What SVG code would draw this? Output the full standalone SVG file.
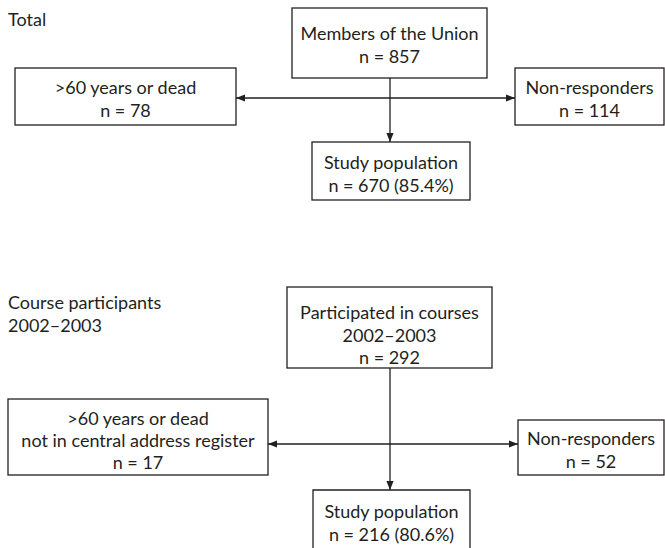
<svg xmlns="http://www.w3.org/2000/svg" width="665" height="548" viewBox="0 0 665 548">
<style>
text{font-family:Lato,"Liberation Sans",sans-serif;font-size:18px;fill:#231f20}
.c{text-anchor:middle}
.box{fill:#fff;stroke:#231f20;stroke-width:1.3}
.ln{stroke:#231f20;stroke-width:1.3;fill:none}
</style>
<defs>
<marker id="ah" viewBox="0 0 10 10" refX="10" refY="5" markerWidth="9" markerHeight="9" markerUnits="userSpaceOnUse" orient="auto-start-reverse">
<path d="M0,1 L10,5 L0,9 z" fill="#231f20"/>
</marker>
</defs>
<text x="8" y="26">Total</text>
<text x="8" y="309">Course participants</text>
<text x="8" y="332">2002–2003</text>
<g id="connectors">
<line class="ln" x1="390" y1="78" x2="390" y2="142" marker-end="url(#ah)"/>
<line class="ln" x1="236" y1="98" x2="515" y2="98" marker-start="url(#ah)" marker-end="url(#ah)"/>
<line class="ln" x1="390" y1="368" x2="390" y2="490" marker-end="url(#ah)"/>
<line class="ln" x1="268" y1="444" x2="518" y2="444" marker-start="url(#ah)" marker-end="url(#ah)"/>
</g>
<g id="members">
<rect class="box" x="292" y="8" width="195" height="70"/>
<text class="c" x="389.5" y="40">Members of the Union</text>
<text class="c" x="389.5" y="63">n = 857</text>
</g>
<g id="old1">
<rect class="box" x="15" y="68" width="221" height="57"/>
<text class="c" x="125.5" y="94">&gt;60 years or dead</text>
<text class="c" x="125.5" y="117">n = 78</text>
</g>
<g id="nonresp1">
<rect class="box" x="515" y="68" width="149" height="57"/>
<text class="c" x="589.5" y="94">Non-responders</text>
<text class="c" x="589.5" y="117">n = 114</text>
</g>
<g id="study1">
<rect class="box" x="312" y="142" width="158" height="58"/>
<text class="c" x="391" y="169">Study population</text>
<text class="c" x="391" y="192">n = 670 (85.4%)</text>
</g>
<g id="participated">
<rect class="box" x="287" y="287" width="205" height="81"/>
<text class="c" x="389.5" y="319">Participated in courses</text>
<text class="c" x="389.5" y="342">2002–2003</text>
<text class="c" x="389.5" y="364">n = 292</text>
</g>
<g id="old2">
<rect class="box" x="8" y="399" width="260" height="76"/>
<text class="c" x="138" y="425">&gt;60 years or dead</text>
<text class="c" x="138" y="447">not in central address register</text>
<text class="c" x="138" y="469">n = 17</text>
</g>
<g id="nonresp2">
<rect class="box" x="518" y="420" width="146" height="55"/>
<text class="c" x="591" y="445">Non-responders</text>
<text class="c" x="591" y="468">n = 52</text>
</g>
<g id="study2">
<path class="box" d="M313,549 V490 H470 V549"/>
<text class="c" x="391.5" y="518">Study population</text>
<text class="c" x="391.5" y="541">n = 216 (80.6%)</text>
</g>
</svg>
